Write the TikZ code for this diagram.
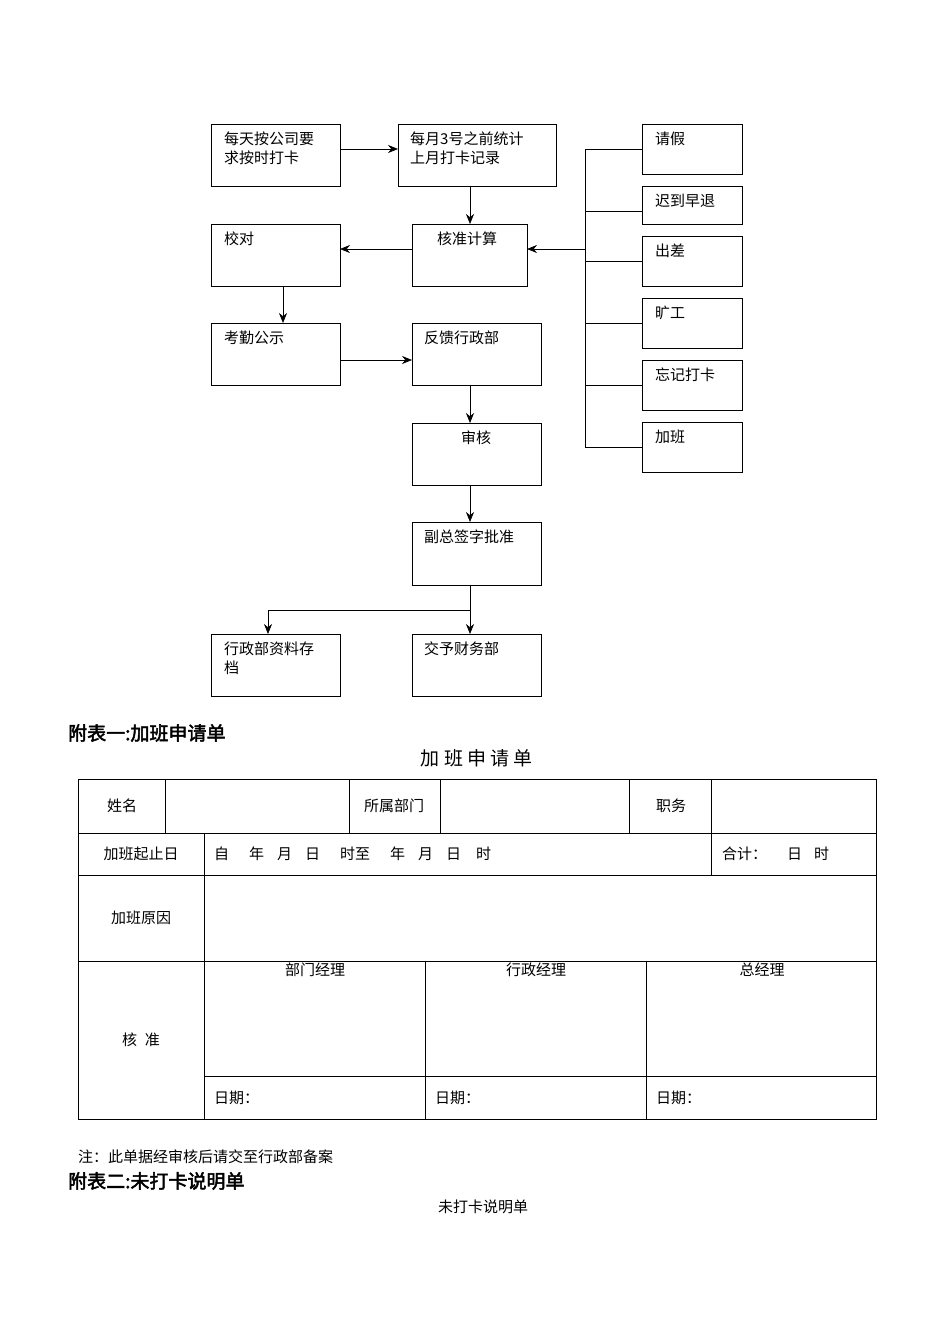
\documentclass[tikz,border=0pt]{standalone}
\usetikzlibrary{arrows.meta}
\usepackage{fontspec}
\newfontfamily\cjk{Noto Sans CJK SC}
\newfontfamily\cjkb{Noto Sans CJK SC}[FakeBold=2.5]
\begin{document}
\begin{tikzpicture}[x=1pt,y=-1pt,font=\cjk\fontsize{15}{19}\selectfont,
 box/.style={draw,line width=0.8pt},
 lbl/.style={anchor=north west,inner sep=0pt,align=left},
 arr/.style={-{Stealth[length=10pt,width=8pt]},line width=0.7pt},
 ln/.style={line width=0.7pt},
 tl/.style={line width=0.6pt}]
\useasboundingbox (0,0) rectangle (950,1344);
\fill[white] (0,0) rectangle (950,1344);
% boxes
\draw[box] (211,124) rectangle (340,186); \node[lbl] at (224,132) {每天按公司要\\求按时打卡};
\draw[box] (398,124) rectangle (556,186); \node[lbl] at (410,132) {每月3号之前统计\\上月打卡记录};
\draw[box] (412,224) rectangle (527,286); \node[lbl] at (437,232) {核准计算};
\draw[box] (211,224) rectangle (340,286); \node[lbl] at (224,232) {校对};
\draw[box] (211,323) rectangle (340,385); \node[lbl] at (224,331) {考勤公示};
\draw[box] (412,323) rectangle (541,385); \node[lbl] at (424,331) {反馈行政部};
\draw[box] (412,423) rectangle (541,485); \node[lbl] at (461,431) {审核};
\draw[box] (412,522) rectangle (541,585); \node[lbl] at (424,530) {副总签字批准};
\draw[box] (211,634) rectangle (340,696); \node[lbl] at (224,642) {行政部资料存\\档};
\draw[box] (412,634) rectangle (541,696); \node[lbl] at (424,642) {交予财务部};
\foreach \a/\b/\t in {124/174/请假,186/224/迟到早退,236/286/出差,298/348/旷工,360/410/忘记打卡,422/472/加班}{
 \draw[box] (642,\a) rectangle (742,\b); \node[lbl] at (655,\a+8) {\t};}
% bracket
\draw[ln] (585,149) -- (585,447);
\foreach \y in {149,211,261,323,385,447} \draw[ln] (585,\y) -- (642,\y);
\draw[arr] (585,249) -- (527,249);
\draw[arr] (340,149) -- (398,149);
\draw[arr] (470,186) -- (470,224);
\draw[arr] (412,249) -- (340,249);
\draw[arr] (283,286) -- (283,323);
\draw[arr] (340,360) -- (412,360);
\draw[arr] (470,385) -- (470,423);
\draw[arr] (470,485) -- (470,522);
\draw[ln] (470,585) -- (470,610) -- (268,610);
\draw[arr] (268,610) -- (268,634);
\draw[arr] (470,610) -- (470,634);
% headings
\node[anchor=west,inner sep=0pt,font=\cjkb\fontsize{19}{22}\selectfont] at (68,733) {附表一:加班申请单};
\node[inner sep=0pt,font=\cjk\fontsize{19}{22}\selectfont] at (477,758) {加 班 申 请 单};
% table
\draw[tl] (78,779) rectangle (876,1119);
\foreach \y in {833,875,961} \draw[tl] (78,\y) -- (876,\y);
\draw[tl] (204,1076) -- (876,1076);
\foreach \x in {165,349,440,629,711} \draw[tl] (\x,779) -- (\x,833);
\draw[tl] (204,833) -- (204,1119);
\draw[tl] (711,833) -- (711,875);
\draw[tl] (425,961) -- (425,1119);
\draw[tl] (646,961) -- (646,1119);
\node at (122,806) {姓名};
\node at (394,806) {所属部门};
\node at (671,806) {职务};
\node at (141,854) {加班起止日};
\node[anchor=west,inner sep=0pt] at (214,854) {自\hspace{20pt}年\hspace{13pt}月\hspace{13pt}日\hspace{20pt}时至\hspace{20pt}年\hspace{13pt}月\hspace{13pt}日\hspace{15pt}时};
\node[anchor=west,inner sep=0pt] at (722,854) {合计：\hspace{20pt}日\hspace{12pt}时};
\node at (141,918) {加班原因};
\node at (315,970) {部门经理};
\node at (536,970) {行政经理};
\node at (762,970) {总经理};
\node at (141,1040) {核\hspace{8pt}准};
\node[anchor=west,inner sep=0pt] at (214,1098) {日期：};
\node[anchor=west,inner sep=0pt] at (435,1098) {日期：};
\node[anchor=west,inner sep=0pt] at (656,1098) {日期：};
\node[anchor=west,inner sep=0pt] at (78,1157) {注：此单据经审核后请交至行政部备案};
\node[anchor=west,inner sep=0pt,font=\cjkb\fontsize{19}{22}\selectfont] at (68,1181) {附表二:未打卡说明单};
\node at (483,1207) {未打卡说明单};
\end{tikzpicture}
\end{document}
